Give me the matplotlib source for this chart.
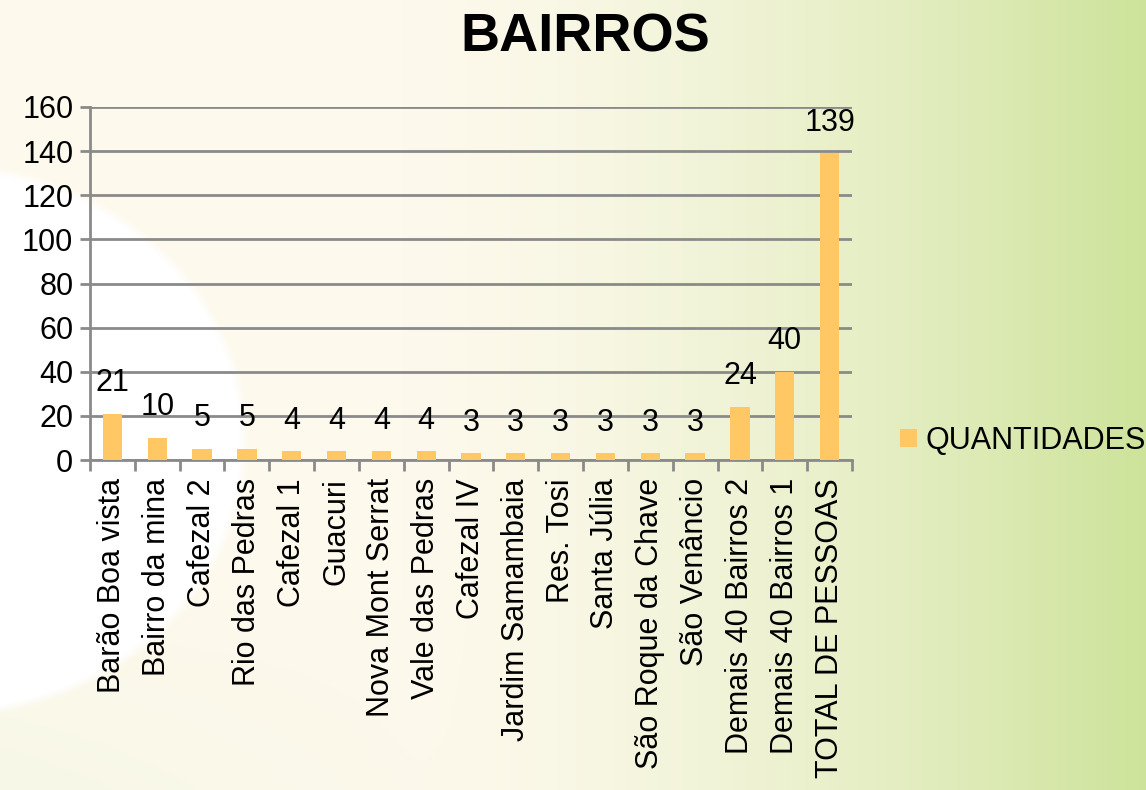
import numpy as np
import matplotlib
matplotlib.use("Agg")
import matplotlib.pyplot as plt

# data
bairros = ["Barão Boa vista", "Bairro da mina", "Cafezal 2", "Rio das Pedras",
           "Cafezal 1", "Guacuri", "Nova Mont Serrat", "Vale das Pedras",
           "Cafezal IV", "Jardim Samambaia", "Res. Tosi", "Santa Júlia",
           "São Roque da Chave", "São Venâncio", "Demais 40 Bairros 2",
           "Demais 40 Bairros 1", "TOTAL DE PESSOAS"]
quantidades = [21, 10, 5, 5, 4, 4, 4, 4, 3, 3, 3, 3, 3, 3, 24, 40, 139]
yticks = [0, 20, 40, 60, 80, 100, 120, 140, 160]

plt.rcParams['font.family'] = ['Liberation Sans', 'DejaVu Sans']
FS = 22

W, H = 1146, 790
fig = plt.figure(figsize=(W / 100, H / 100), dpi=100)

# background: cream -> green gradient with a soft white blob on the left
xx, yy = np.meshgrid(np.arange(W), np.arange(H))
t = np.clip((xx / W - 0.35) / 0.65, 0, 1) ** 1.6
cream = np.array([253, 249, 236]) / 255
green = np.array([205, 227, 154]) / 255
bg = cream[None, None, :] * (1 - t[..., None]) + green[None, None, :] * t[..., None]
# faint green tint at bottom left
tint = np.clip((yy - 600) / 190, 0, 1) * np.clip(1 - xx / 500, 0, 1) * 0.5
bg = bg * (1 - tint[..., None]) + np.array([240, 246, 226])[None, None, :] / 255 * tint[..., None]
d = ((xx + 60) / 305) ** 2 + ((yy - 440) / 275) ** 2
w = np.clip((1.03 - d) / 0.07, 0, 1)
bg = bg * (1 - w[..., None]) + w[..., None]
bgax = fig.add_axes([0, 0, 1, 1], zorder=-1)
bgax.imshow(bg, aspect='auto', extent=(0, 1, 0, 1))
bgax.axis('off')

ax = fig.add_axes([90 / W, 1 - 460 / H, (852 - 90) / W, (460 - 107) / H])
ax.patch.set_alpha(0)
x = np.arange(len(bairros))
bars = ax.bar(x, quantidades, width=0.43, color='#FFC864', zorder=3, label='QUANTIDADES')

for xi, v in zip(x, quantidades):
    ax.annotate(str(v), (xi, v), xytext=(0, 22), textcoords='offset points',
                ha='center', va='center', fontsize=FS, zorder=4)

ax.set_ylim(0, 160)
ax.set_xlim(-0.5, len(bairros) - 0.5)
ax.set_yticks(yticks)
ax.yaxis.grid(True, color='#8a8a8a', linewidth=2, zorder=1)
ax.set_axisbelow(True)
ax.tick_params(axis='y', labelsize=FS, color='#8a8a8a', width=2, length=7, pad=5)

ax.set_xticks(x)
ax.set_xticklabels(bairros, rotation=90, fontsize=FS)
ax.set_xticks(np.arange(len(bairros) + 1) - 0.5, minor=True)
ax.tick_params(axis='x', which='major', length=0, pad=13)
ax.tick_params(axis='x', which='minor', color='#8a8a8a', width=2, length=8)

for s in ['top', 'right']:
    ax.spines[s].set_visible(False)
for s in ['left', 'bottom']:
    ax.spines[s].set_color('#8a8a8a')
    ax.spines[s].set_linewidth(2)

fig.text(585 / W, 1 - 38 / H, 'BAIRROS', fontsize=39, fontweight='bold',
         ha='center', va='center')

fig.legend(handles=[bars], loc='center left', bbox_to_anchor=(900 / W, 1 - 441 / H),
           frameon=False, fontsize=FS, handlelength=0.55, handleheight=0.55,
           handletextpad=0.3, borderpad=0, borderaxespad=0)

fig.savefig('out.png', dpi=100)
